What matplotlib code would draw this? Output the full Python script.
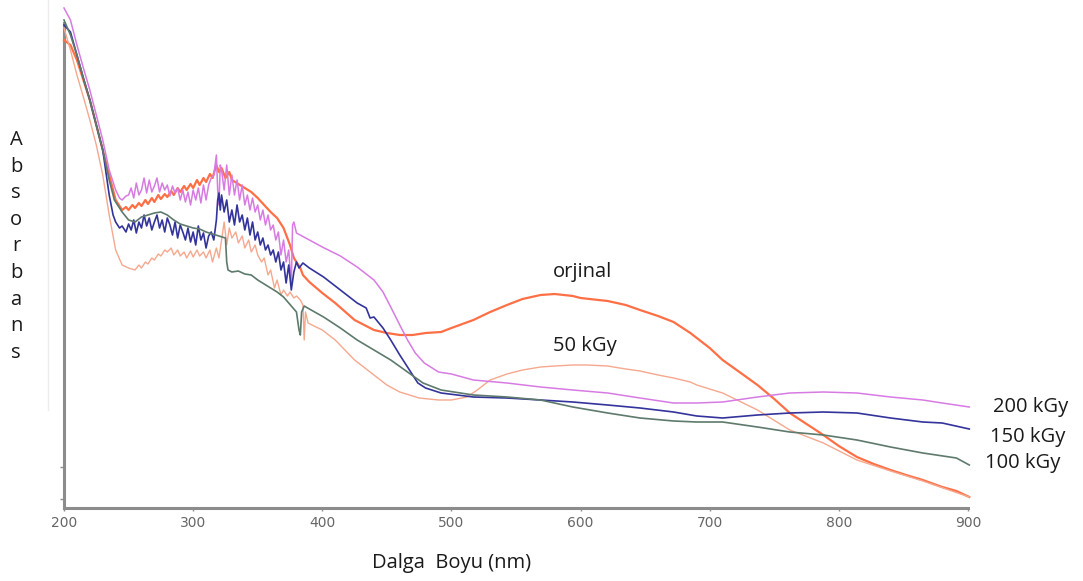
import matplotlib
matplotlib.use("Agg")
import matplotlib.pyplot as plt
from matplotlib.lines import Line2D

# ---------------- spectra (wavelength in nm, absorbance in arbitrary units) ----------------
wl_orj = [200, 205, 210, 215, 220, 225, 230, 235, 240, 245, 248, 250, 253, 255, 258, 260, 263,
          265, 268, 270, 273, 275, 278, 280, 283, 285, 288, 290, 293, 295, 298, 300, 303, 305,
          308, 310, 313, 315, 318, 320, 322, 325, 328, 330, 335, 340, 345, 350, 355, 360, 365,
          370, 375, 378, 380, 383, 385, 390, 400, 410, 425, 440, 450, 460, 470, 480, 492, 500,
          517, 530, 543, 555, 569, 580, 594, 600, 621, 635, 646, 660, 672, 685, 700, 710, 723,
          737, 750, 762, 775, 788, 800, 814, 827, 840, 852, 865, 880, 891, 901]
abs_orj = [4.60, 4.55, 4.40, 4.20, 4.00, 3.75, 3.50, 3.25, 3.00, 2.90, 2.93, 2.90, 2.95, 2.92,
           2.97, 2.94, 3.00, 2.96, 3.02, 2.98, 3.05, 3.01, 3.06, 3.03, 3.09, 3.05, 3.12, 3.08,
           3.14, 3.10, 3.16, 3.12, 3.20, 3.15, 3.22, 3.18, 3.26, 3.22, 3.35, 3.28, 3.32, 3.22,
           3.28, 3.20, 3.16, 3.12, 3.08, 3.02, 2.95, 2.88, 2.82, 2.72, 2.55, 2.42, 2.38, 2.32,
           2.25, 2.18, 2.07, 1.97, 1.80, 1.70, 1.67, 1.65, 1.65, 1.67, 1.68, 1.72, 1.80, 1.88,
           1.95, 2.01, 2.05, 2.06, 2.04, 2.02, 1.99, 1.95, 1.90, 1.84, 1.78, 1.67, 1.52, 1.40,
           1.28, 1.15, 1.01, 0.87, 0.76, 0.65, 0.54, 0.43, 0.36, 0.30, 0.25, 0.20, 0.13, 0.09,
           0.03]

wl_50 = [200, 205, 210, 215, 220, 225, 230, 235, 240, 245, 250, 255, 258, 260, 263, 265, 268,
         270, 273, 275, 278, 280, 283, 285, 288, 290, 293, 295, 298, 300, 303, 305, 308, 310,
         313, 315, 318, 320, 322, 324, 326, 328, 330, 333, 335, 338, 340, 343, 345, 348, 350,
         353, 355, 358, 360, 363, 365, 368, 370, 373, 375, 378, 380, 383, 385, 386, 387, 389,
         392, 400, 410, 425, 440, 450, 460, 475, 490, 500, 512, 520, 530, 543, 555, 569, 580,
         594, 605, 621, 635, 646, 660, 672, 685, 690, 710, 737, 762, 788, 814, 840, 865, 901]
abs_50 = [4.72, 4.50, 4.25, 4.03, 3.80, 3.55, 3.25, 2.85, 2.50, 2.35, 2.32, 2.30, 2.35, 2.32,
          2.38, 2.36, 2.42, 2.40, 2.46, 2.44, 2.50, 2.48, 2.52, 2.45, 2.50, 2.44, 2.48, 2.42,
          2.49, 2.43, 2.50, 2.44, 2.48, 2.42, 2.50, 2.38, 2.52, 2.42, 2.60, 2.78, 2.55, 2.72,
          2.62, 2.68, 2.57, 2.64, 2.52, 2.60, 2.48, 2.55, 2.45, 2.38, 2.42, 2.25, 2.30, 2.12,
          2.20, 2.05, 2.10, 2.04, 2.08, 2.02, 2.04, 2.00, 1.95, 1.60, 1.88, 1.77, 1.75, 1.70,
          1.60, 1.40, 1.25, 1.15, 1.08, 1.02, 1.00, 1.00, 1.03, 1.10, 1.20, 1.26, 1.30, 1.33,
          1.34, 1.35, 1.35, 1.34, 1.31, 1.29, 1.25, 1.22, 1.18, 1.15, 1.07, 0.90, 0.70, 0.57,
          0.40, 0.29, 0.19, 0.03]

wl_200 = [200, 205, 210, 215, 220, 225, 230, 235, 240, 243, 245, 248, 250, 252, 254, 256, 258,
          260, 262, 264, 266, 268, 270, 272, 274, 276, 278, 280, 282, 284, 286, 288, 290, 292,
          294, 296, 298, 300, 302, 304, 306, 308, 310, 312, 314, 316, 318, 319, 320, 321, 322,
          324, 326, 328, 330, 332, 334, 336, 338, 340, 342, 344, 346, 348, 350, 352, 354, 356,
          358, 360, 362, 364, 366, 368, 370, 372, 374, 376, 377, 378, 380, 390, 400, 414, 427,
          440, 447, 453, 460, 466, 472, 479, 490, 500, 517, 543, 569, 594, 621, 646, 672, 690,
          710, 737, 762, 788, 814, 840, 865, 880, 901]
abs_200 = [4.92, 4.80, 4.55, 4.32, 4.10, 3.85, 3.60, 3.30, 3.10, 3.02, 3.00, 3.04, 3.05, 3.12,
           3.02, 3.17, 3.05, 3.10, 3.22, 3.07, 3.20, 3.08, 3.14, 3.22, 3.08, 3.17, 3.10, 3.15,
           3.04, 3.14, 3.07, 3.12, 3.00, 3.10, 2.98, 3.08, 2.95, 3.10, 3.00, 3.12, 2.97, 3.15,
           3.00, 3.15, 3.22, 3.25, 3.45, 3.10, 2.95, 3.35, 3.30, 3.10, 3.35, 3.05, 3.25, 3.05,
           3.20, 3.00, 3.15, 2.95, 3.05, 2.90, 3.02, 2.88, 2.95, 2.80, 2.90, 2.75, 2.85, 2.70,
           2.75, 2.60, 2.68, 2.45, 2.60, 2.38, 2.50, 2.15, 2.75, 2.78, 2.67, 2.60, 2.53, 2.44,
           2.33, 2.20, 2.08, 1.93, 1.75, 1.60, 1.47, 1.37, 1.28, 1.26, 1.20, 1.17, 1.13, 1.10,
           1.07, 1.02, 0.97, 0.97, 0.98, 1.03, 1.07, 1.08, 1.07, 1.03, 1.00, 0.97, 0.93]

wl_150 = [200, 205, 210, 215, 220, 225, 230, 235, 238, 240, 243, 245, 248, 250, 252, 254, 256,
          258, 260, 262, 264, 266, 268, 270, 272, 274, 276, 278, 280, 282, 284, 286, 288, 290,
          292, 294, 296, 298, 300, 302, 304, 306, 308, 310, 312, 314, 316, 318, 319, 320, 321,
          322, 324, 326, 328, 330, 332, 334, 336, 338, 340, 342, 344, 346, 348, 350, 352, 354,
          356, 358, 360, 362, 364, 366, 368, 370, 372, 374, 376, 378, 380, 382, 385, 390, 401,
          414, 427, 434, 437, 440, 447, 453, 460, 466, 474, 480, 492, 517, 543, 569, 594, 621,
          646, 672, 690, 710, 737, 762, 788, 814, 840, 865, 880, 901]
abs_150 = [4.75, 4.68, 4.45, 4.22, 4.00, 3.75, 3.50, 3.05, 2.85, 2.78, 2.72, 2.74, 2.68, 2.76,
           2.70, 2.80, 2.67, 2.78, 2.72, 2.85, 2.74, 2.82, 2.70, 2.78, 2.85, 2.72, 2.80, 2.68,
           2.82, 2.75, 2.65, 2.78, 2.62, 2.75, 2.68, 2.60, 2.72, 2.58, 2.68, 2.55, 2.74, 2.60,
           2.67, 2.52, 2.64, 2.68, 2.60, 2.80, 3.00, 3.07, 2.90, 3.05, 2.88, 3.00, 2.78, 2.90,
           2.75, 2.95, 2.78, 2.85, 2.70, 2.82, 2.65, 2.78, 2.60, 2.68, 2.55, 2.62, 2.50, 2.55,
           2.45, 2.50, 2.38, 2.48, 2.30, 2.38, 2.17, 2.35, 2.10, 2.28, 2.38, 2.32, 2.37, 2.32,
           2.23, 2.10, 1.97, 1.92, 1.82, 1.83, 1.72, 1.60, 1.45, 1.33, 1.17, 1.12, 1.07, 1.03,
           1.02, 1.00, 0.98, 0.95, 0.92, 0.88, 0.84, 0.82, 0.85, 0.87, 0.88, 0.87, 0.82, 0.78,
           0.77, 0.71]

wl_100 = [200, 205, 210, 215, 220, 225, 230, 235, 239, 245, 250, 255, 260, 265, 270, 275, 280,
          285, 290, 295, 300, 305, 310, 315, 320, 325, 326, 327, 330, 335, 340, 345, 350, 355,
          360, 365, 370, 376, 380, 382, 383, 384, 386, 390, 401, 414, 427, 440, 453, 466, 478,
          492, 517, 543, 569, 594, 621, 646, 672, 690, 710, 737, 762, 788, 814, 840, 865, 891,
          901]
abs_100 = [4.80, 4.65, 4.45, 4.22, 4.00, 3.75, 3.50, 3.20, 3.00, 2.88, 2.80, 2.78, 2.83, 2.85,
           2.87, 2.88, 2.85, 2.80, 2.76, 2.74, 2.72, 2.71, 2.68, 2.66, 2.64, 2.62, 2.38, 2.30,
           2.28, 2.29, 2.26, 2.25, 2.20, 2.16, 2.12, 2.08, 2.03, 1.94, 1.88, 1.70, 1.65, 1.88,
           1.94, 1.91, 1.83, 1.72, 1.60, 1.50, 1.40, 1.28, 1.17, 1.10, 1.05, 1.03, 1.00, 0.93,
           0.87, 0.82, 0.79, 0.78, 0.78, 0.73, 0.68, 0.65, 0.60, 0.53, 0.47, 0.42, 0.35]

series_names = ["orjinal", "50 kGy", "200 kGy", "150 kGy", "100 kGy"]
x_ticks = [200, 300, 400, 500, 600, 700, 800, 900]

# ---------------- figure ----------------
W, H = 1083, 581
Y_LO, Y_HI = -0.08, 4.95
fig = plt.figure(figsize=(W / 100, H / 100), dpi=100)
ax = fig.add_axes([64 / W, (H - 508) / H, (968 - 64) / W, (508 - 5) / H])

styles = [
    (wl_orj, abs_orj, "#FF6F45", 1.6),
    (wl_50, abs_50, "#F5A88E", 1.0),
    (wl_200, abs_200, "#D77BE3", 1.1),
    (wl_150, abs_150, "#33339C", 1.2),
    (wl_100, abs_100, "#5E7A6C", 1.2),
]
for x, y, c, lw in styles:
    ax.plot(x, y, color=c, lw=lw, clip_on=False, zorder=3)

ax.set_xlim(200, 900)
ax.set_ylim(Y_LO, Y_HI)

for s in ("top", "right"):
    ax.spines[s].set_visible(False)
for s in ("left", "bottom"):
    ax.spines[s].set_color("#8C8C8C")
    ax.spines[s].set_linewidth(2.2)
ax.spines["left"].set_bounds(Y_LO, 4.77)

ax.set_xticks(x_ticks)
ax.set_xticklabels([str(v) for v in x_ticks], fontsize=10, color="#666666",
                   family="DejaVu Sans")
ax.tick_params(axis="x", direction="out", length=2, width=1, color="#8C8C8C", pad=4)
ax.set_yticks([0.01, 0.33])
ax.set_yticklabels([])
ax.tick_params(axis="y", direction="out", length=3, width=1, color="#8C8C8C")

# series labels
label_font = dict(family="Open Sans", fontsize=14.5, color="#1A1A1A", va="center", ha="left")
fig.text(553 / W, 1 - 272 / H, series_names[0], **label_font)
fig.text(553 / W, 1 - 346 / H, series_names[1], **label_font)
fig.text(993 / W, 1 - 407 / H, series_names[2], **label_font)
fig.text(990 / W, 1 - 437 / H, series_names[3], **label_font)
fig.text(985 / W, 1 - 463 / H, series_names[4], **label_font)

# axis titles
fig.text(372 / W, 1 - 563 / H, "Dalga  Boyu (nm)", family="Open Sans", fontsize=14.5,
         color="#1A1A1A", va="center", ha="left")
for i, ch in enumerate("Absorbans"):
    fig.text(16 / W, 1 - (140 + i * 26.6) / H, ch, family="Open Sans", fontsize=14.5,
             color="#1A1A1A", va="center", ha="center")

# faint guide line at the left
fig.add_artist(Line2D([48 / W, 48 / W], [1 - 410 / H, 1.0], color="#EDEDED", lw=1))

fig.savefig("out.png", dpi=100, facecolor="white")
